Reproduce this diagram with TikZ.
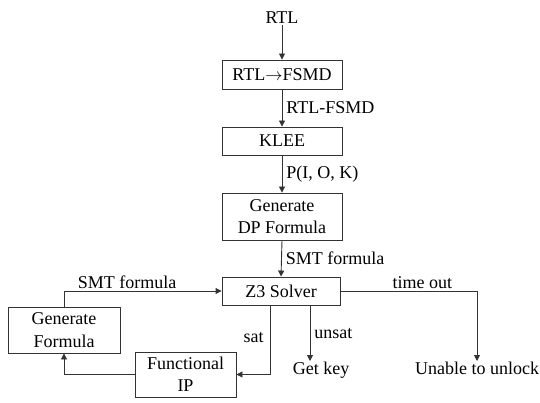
\documentclass[tikz,border=0pt]{standalone}
\usepackage{fontspec}
\setmainfont{Liberation Serif}
\usetikzlibrary{arrows.meta}
\begin{document}
\begin{tikzpicture}[x=1pt,y=-1pt,
  font=\rmfamily\fontsize{18}{22.5}\selectfont,
  box/.style={draw=black!80,line width=0.9pt,align=center,inner sep=0pt},
  lbl/.style={inner sep=1pt},
  arr/.style={draw=black!80,line width=0.9pt,-{Triangle[length=6pt,width=6pt]}}]
\useasboundingbox (0,0) rectangle (540,403);
\node[lbl,anchor=south] (rtl) at (282,25) {RTL};
\node[box,minimum width=120pt,minimum height=29pt] (a) at (282,74.5) {RTL$\rightarrow$FSMD};
\node[box,minimum width=120pt,minimum height=28pt] (klee) at (282,141) {KLEE};
\node[box,minimum width=120pt,minimum height=47pt] (dp) at (282,216.5) {Generate\\DP Formula};
\node[box,minimum width=118pt,minimum height=28pt] (z3) at (281,291) {Z3 Solver};
\node[box,minimum width=112pt,minimum height=46pt] (genf) at (64,330) {Generate\\Formula};
\node[box,minimum width=101pt,minimum height=45pt] (fip) at (185.5,374.5) {Functional\\IP};
\node[lbl,anchor=north] (getkey) at (321,361) {Get key};
\node[lbl,anchor=north] (unlock) at (477,361) {Unable to unlock};

\draw[arr] (rtl.south) -- (a.north);
\draw[arr] (a.south) -- node[lbl,anchor=west,xshift=3pt] (l1) {RTL-FSMD} (klee.north);
\draw[arr] (klee.south) -- node[lbl,anchor=west,xshift=3pt] (l2) {P(I, O, K)} (dp.north);
\draw[arr] (dp.south) -- node[lbl,anchor=west,xshift=3pt] (l3) {SMT formula} (z3.north);
\draw[arr] ([xshift=-11pt]z3.south) |- node[lbl,pos=0.23,anchor=east,xshift=-5pt] (l4) {sat} (fip.east);
\draw[arr] (fip.west) -| (genf.south);
\draw[arr] (genf.north) |- node[lbl,pos=0.7,anchor=south,yshift=1pt] (l5) {SMT formula} (z3.west);
\draw[arr] ([xshift=29pt]z3.south) coordinate (u) -- node[lbl,anchor=west,xshift=3pt] (l6) {unsat} (u |- getkey.north);
\draw[arr] (z3.east) -| node[lbl,pos=0.3,anchor=south,yshift=1pt] (l7) {time out} (unlock.north);
\end{tikzpicture}
\end{document}
